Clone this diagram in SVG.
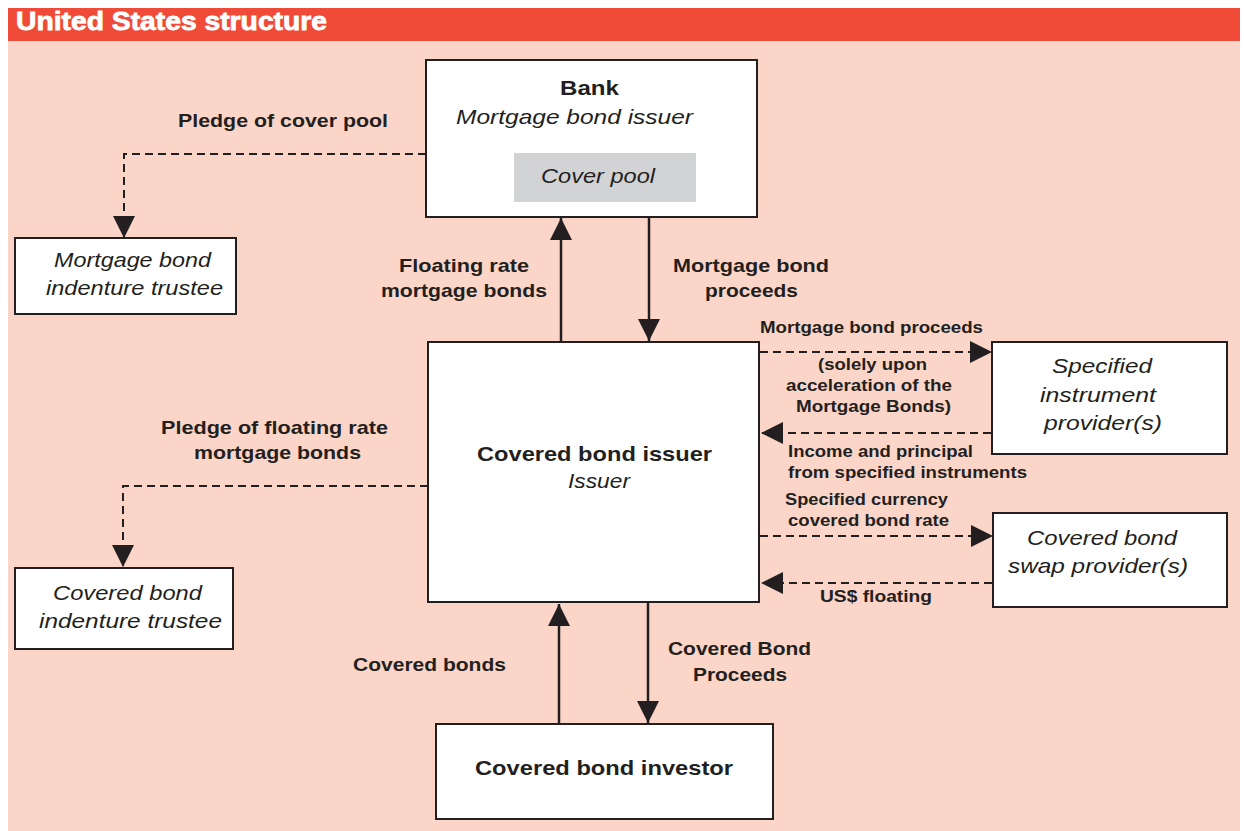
<svg xmlns="http://www.w3.org/2000/svg" width="1244" height="831" viewBox="0 0 1244 831">
<defs>
<marker id="ah" viewBox="0 0 10 10" refX="10" refY="5" markerWidth="22" markerHeight="22" markerUnits="userSpaceOnUse" orient="auto">
<path d="M0,0 L10,5 L0,10 Z" fill="#231F20"/>
</marker>
<style>
.box{fill:#fff;stroke:#231F20;stroke-width:2}
.t{font-family:"Liberation Sans",Arial,sans-serif;fill:#231F20;text-anchor:middle}
.b{font-weight:bold}
.i{font-style:italic}
.big{font-size:21px}
.lab{font-size:18.5px;font-weight:bold}
.sm{font-size:16px;font-weight:bold}
.solid{stroke:#231F20;stroke-width:2.5;fill:none}
.dash{stroke:#231F20;stroke-width:2;fill:none;stroke-dasharray:8 5}
</style>
</defs>
<rect x="0" y="0" width="1244" height="831" fill="#fff"/>
<rect x="8" y="41" width="1232" height="790" fill="#FBD5C7"/>
<rect x="8" y="8" width="1232" height="33" fill="#F04A38"/>
<text x="16" y="30" font-family="Liberation Sans,Arial,sans-serif" font-weight="bold" font-size="25" fill="#fff" stroke="#fff" stroke-width="0.8" textLength="311" lengthAdjust="spacingAndGlyphs">United States structure</text>

<g id="bank">
<rect class="box" x="426" y="60" width="331" height="157"/>
<text class="t b big" x="589.5" y="95" textLength="59" lengthAdjust="spacingAndGlyphs">Bank</text>
<text class="t i big" x="574.5" y="124" textLength="237" lengthAdjust="spacingAndGlyphs">Mortgage bond issuer</text>
<rect x="514" y="153" width="182" height="49" fill="#D2D3D5"/>
<text class="t i big" x="598" y="183" textLength="114" lengthAdjust="spacingAndGlyphs">Cover pool</text>
</g>

<g id="mb-trustee">
<rect class="box" x="15" y="238" width="221" height="76"/>
<text class="t i big" x="132.5" y="267" textLength="157" lengthAdjust="spacingAndGlyphs">Mortgage bond</text>
<text class="t i big" x="134.5" y="295" textLength="177" lengthAdjust="spacingAndGlyphs">indenture trustee</text>
</g>

<g id="issuer">
<rect class="box" x="428" y="342" width="331" height="260"/>
<text class="t b big" x="594.5" y="461" textLength="235" lengthAdjust="spacingAndGlyphs">Covered bond issuer</text>
<text class="t i big" x="599" y="488" textLength="62" lengthAdjust="spacingAndGlyphs">Issuer</text>
</g>

<g id="cb-trustee">
<rect class="box" x="15" y="568" width="218" height="81"/>
<text class="t i big" x="127.5" y="600" textLength="149" lengthAdjust="spacingAndGlyphs">Covered bond</text>
<text class="t i big" x="130.5" y="628" textLength="183" lengthAdjust="spacingAndGlyphs">indenture trustee</text>
</g>

<g id="sip">
<rect class="box" x="992" y="342" width="235" height="112"/>
<text class="t i big" x="1102" y="373" textLength="100" lengthAdjust="spacingAndGlyphs">Specified</text>
<text class="t i big" x="1098" y="402" textLength="116" lengthAdjust="spacingAndGlyphs">instrument</text>
<text class="t i big" x="1103" y="430" textLength="118" lengthAdjust="spacingAndGlyphs">provider(s)</text>
</g>

<g id="swap">
<rect class="box" x="993" y="513" width="234" height="94"/>
<text class="t i big" x="1102" y="545" textLength="150" lengthAdjust="spacingAndGlyphs">Covered bond</text>
<text class="t i big" x="1098" y="573" textLength="180" lengthAdjust="spacingAndGlyphs">swap provider(s)</text>
</g>

<g id="investor">
<rect class="box" x="436" y="724" width="337" height="95"/>
<text class="t b big" x="604" y="775" textLength="258" lengthAdjust="spacingAndGlyphs">Covered bond investor</text>
</g>

<g id="connectors">
<path class="dash" d="M426,154 H124 V238" marker-end="url(#ah)"/>
<path class="dash" d="M428,486 H123 V567" marker-end="url(#ah)"/>
<path class="solid" d="M561,341 V218" marker-end="url(#ah)"/>
<path class="solid" d="M649,218 V341" marker-end="url(#ah)"/>
<path class="solid" d="M559,724 V604" marker-end="url(#ah)"/>
<path class="solid" d="M648,603 V723" marker-end="url(#ah)"/>
<path class="dash" d="M760,352 H992" marker-end="url(#ah)"/>
<path class="dash" d="M991,433 H761" marker-end="url(#ah)"/>
<path class="dash" d="M760,536 H993" marker-end="url(#ah)"/>
<path class="dash" d="M992,583 H761" marker-end="url(#ah)"/>
</g>

<g id="labels">
<text class="t lab" x="283" y="127" textLength="210" lengthAdjust="spacingAndGlyphs">Pledge of cover pool</text>
<text class="t lab" x="464" y="272" textLength="130" lengthAdjust="spacingAndGlyphs">Floating rate</text>
<text class="t lab" x="464" y="297" textLength="166" lengthAdjust="spacingAndGlyphs">mortgage bonds</text>
<text class="t lab" x="751" y="272" textLength="156" lengthAdjust="spacingAndGlyphs">Mortgage bond</text>
<text class="t lab" x="751.5" y="297" textLength="93" lengthAdjust="spacingAndGlyphs">proceeds</text>
<text class="t lab" x="274.5" y="434" textLength="227" lengthAdjust="spacingAndGlyphs">Pledge of floating rate</text>
<text class="t lab" x="277.5" y="459" textLength="167" lengthAdjust="spacingAndGlyphs">mortgage bonds</text>
<text class="t lab" x="429.5" y="671" textLength="153" lengthAdjust="spacingAndGlyphs">Covered bonds</text>
<text class="t lab" x="739.5" y="655" textLength="143" lengthAdjust="spacingAndGlyphs">Covered Bond</text>
<text class="t lab" x="740" y="681" textLength="94" lengthAdjust="spacingAndGlyphs">Proceeds</text>
<text class="t sm" x="871.5" y="333" textLength="223" lengthAdjust="spacingAndGlyphs">Mortgage bond proceeds</text>
<text class="t sm" x="872.5" y="370" textLength="109" lengthAdjust="spacingAndGlyphs">(solely upon</text>
<text class="t sm" x="869" y="391" textLength="166" lengthAdjust="spacingAndGlyphs">acceleration of the</text>
<text class="t sm" x="873.5" y="412" textLength="155" lengthAdjust="spacingAndGlyphs">Mortgage Bonds)</text>
<text class="t sm" x="788" y="457" style="text-anchor:start" textLength="185" lengthAdjust="spacingAndGlyphs">Income and principal</text>
<text class="t sm" x="788" y="478" style="text-anchor:start" textLength="239" lengthAdjust="spacingAndGlyphs">from specified instruments</text>
<text class="t sm" x="866.5" y="505" textLength="163" lengthAdjust="spacingAndGlyphs">Specified currency</text>
<text class="t sm" x="868.5" y="526" textLength="161" lengthAdjust="spacingAndGlyphs">covered bond rate</text>
<text class="t sm" x="876" y="602" textLength="112" lengthAdjust="spacingAndGlyphs">US$ floating</text>
</g>
</svg>
